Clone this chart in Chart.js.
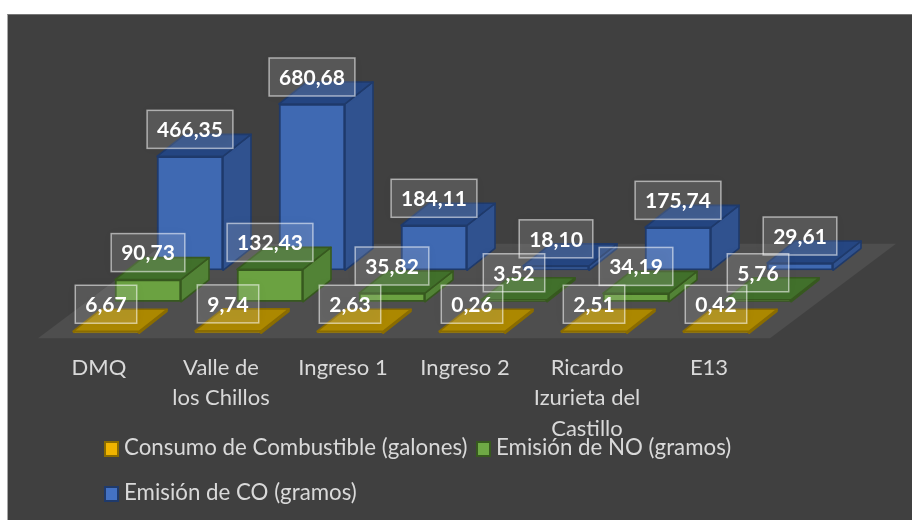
<!DOCTYPE html>
<html>
<head>
<meta charset="utf-8">
<script src="https://cdn.jsdelivr.net/npm/chart.js@4/dist/chart.umd.min.js"></script>
<style>
  html, body { margin: 0; background: #fff; }
  #wrap { position: relative; width: 912px; height: 520px; overflow: hidden; }
  #panel { position: absolute; left: 7px; top: 14px; right: 0; bottom: 0; background: #404040; border-left: 1px solid #a8a8a8; border-top: 1px solid #777; }
  canvas { position: absolute; left: 0; top: 0; }
  .lg { position: absolute; font: 22.3px Lato, sans-serif; color: #d9d9d9; white-space: nowrap; line-height: 24px; }
  .lg i { display: inline-block; width: 11px; height: 12px; border: 2px solid; margin-right: 5px; vertical-align: -2px; }
</style>
</head>
<body>
<div id="wrap">
  <div id="panel"></div>
  <canvas id="c" width="912" height="520"></canvas>
  <div id="legend"></div>
</div>
<script>
const categories = ['DMQ', ['Valle de', 'los Chillos'], 'Ingreso 1', 'Ingreso 2', ['Ricardo', 'Izurieta del', 'Castillo'], 'E13'];
const consumo = [6.67, 9.74, 2.63, 0.26, 2.51, 0.42];
const emisionNO = [90.73, 132.43, 35.82, 3.52, 34.19, 5.76];
const emisionCO = [466.35, 680.68, 184.11, 18.10, 175.74, 29.61];
const seriesNames = ['Consumo de Combustible (galones)', 'Emisión de NO (gramos)', 'Emisión de CO (gramos)'];

// depth look: each series sits one row further back on the floor
const rowStep = { x: 42, y: -31.5 };
const rowStart = { x: 7, y: -5 };
const boxDepth = { x: 28, y: -22 };
const palette = [
  { front: '#b08c00', top: '#ac8800', side: '#94760a', line: '#8a6c00', key: '#f0b400' },
  { front: '#6ba241', top: '#41702b', side: '#528336', line: '#37591f', key: '#6fa945' },
  { front: '#3f69b2', top: '#254682', side: '#30528f', line: '#1f3a6b', key: '#4472c4' }
];

function rowOffset(i) {
  return { x: rowStart.x + rowStep.x * i, y: rowStart.y + rowStep.y * i };
}

const floorPlugin = {
  id: 'floor',
  beforeDatasetsDraw(chart) {
    const { ctx } = chart;
    const x = chart.scales.x, y0 = chart.scales.y.getPixelForValue(0);
    const dx = rowStep.x * 3, dy = rowStep.y * 3;
    ctx.save();
    ctx.fillStyle = '#4e4e4e';
    ctx.beginPath();
    ctx.moveTo(x.left, y0);
    ctx.lineTo(x.right, y0);
    ctx.lineTo(x.right + dx, y0 + dy);
    ctx.lineTo(x.left + dx, y0 + dy);
    ctx.closePath();
    ctx.fill();
    ctx.restore();
  }
};

const boxPlugin = {
  id: 'box3d',
  beforeDatasetDraw(chart, args) {
    const off = rowOffset(args.index);
    chart.ctx.save();
    chart.ctx.translate(off.x, off.y);
  },
  afterDatasetDraw(chart, args) {
    const { ctx } = chart;
    const col = palette[args.index];
    ctx.lineWidth = 1.6;
    ctx.lineJoin = 'round';
    ctx.strokeStyle = col.line;
    args.meta.data.forEach(bar => {
      const { x, y, base, width } = bar.getProps(['x', 'y', 'base', 'width'], true);
      const l = x - width / 2, r = x + width / 2;
      ctx.fillStyle = col.side;
      ctx.beginPath();
      ctx.moveTo(r, y);
      ctx.lineTo(r + boxDepth.x, y + boxDepth.y);
      ctx.lineTo(r + boxDepth.x, base + boxDepth.y);
      ctx.lineTo(r, base);
      ctx.closePath();
      ctx.fill();
      ctx.stroke();
      ctx.fillStyle = col.top;
      ctx.beginPath();
      ctx.moveTo(l, y);
      ctx.lineTo(l + boxDepth.x, y + boxDepth.y);
      ctx.lineTo(r + boxDepth.x, y + boxDepth.y);
      ctx.lineTo(r, y);
      ctx.closePath();
      ctx.fill();
      ctx.stroke();
    });
    ctx.restore();
  }
};

const labelPlugin = {
  id: 'valueBoxes',
  afterDatasetsDraw(chart) {
    const { ctx } = chart;
    ctx.save();
    ctx.font = 'bold 21px Lato, sans-serif';
    ctx.textAlign = 'center';
    ctx.textBaseline = 'middle';
    [2, 1, 0].forEach(i => {
      const off = rowOffset(i);
      chart.getDatasetMeta(i).data.forEach((bar, j) => {
        const txt = chart.data.datasets[i].data[j].toFixed(2).replace('.', ',');
        const { x, y } = bar.getProps(['x', 'y'], true);
        const cx = x + off.x, cy = y + off.y - 27;
        const w = ctx.measureText(txt).width + 20, h = 38;
        ctx.shadowColor = 'rgba(0,0,0,0.3)';
        ctx.shadowBlur = 10;
        ctx.fillStyle = 'rgba(255,255,255,0.13)';
        ctx.fillRect(cx - w / 2, cy - h / 2, w, h);
        ctx.shadowColor = 'transparent';
        ctx.strokeStyle = 'rgba(255,255,255,0.55)';
        ctx.lineWidth = 1.5;
        ctx.strokeRect(cx - w / 2, cy - h / 2, w, h);
        ctx.fillStyle = '#ffffff';
        ctx.fillText(txt, cx, cy + 1);
      });
    });
    ctx.restore();
  }
};

const chart = new Chart(document.getElementById('c'), {
  type: 'bar',
  data: {
    labels: categories,
    datasets: [consumo, emisionNO, emisionCO].map((values, i) => ({
      label: seriesNames[i],
      data: values,
      grouped: false,
      barThickness: 66,
      minBarLength: 2,
      backgroundColor: palette[i].front,
      borderColor: palette[i].line,
      borderWidth: 2,
      borderSkipped: false
    }))
  },
  options: {
    responsive: false,
    animation: false,
    layout: { padding: { left: 38, right: 142, top: 30, bottom: 70 } },
    plugins: { legend: { display: false }, tooltip: { enabled: false } },
    scales: {
      x: {
        grid: { display: false },
        border: { display: false },
        ticks: {
          color: '#d9d9d9',
          font: { family: 'Lato, sans-serif', size: 22, lineHeight: 1.39 },
          padding: 6,
          maxRotation: 0,
          autoSkip: false
        }
      },
      y: { display: false, min: 0, max: 1262 }
    }
  },
  plugins: [floorPlugin, boxPlugin, labelPlugin]
});

// legend sits in two rows with tighter spacing than the built-in one
const legendSpots = [{ left: 104, top: 435 }, { left: 476, top: 435 }, { left: 104, top: 480 }];
document.getElementById('legend').innerHTML = seriesNames.map((name, i) =>
  `<div class="lg" style="left:${legendSpots[i].left}px;top:${legendSpots[i].top}px">` +
  `<i style="background:${palette[i].key};border-color:${palette[i].line}"></i>${name}</div>`
).join('');
</script>
</body>
</html>
